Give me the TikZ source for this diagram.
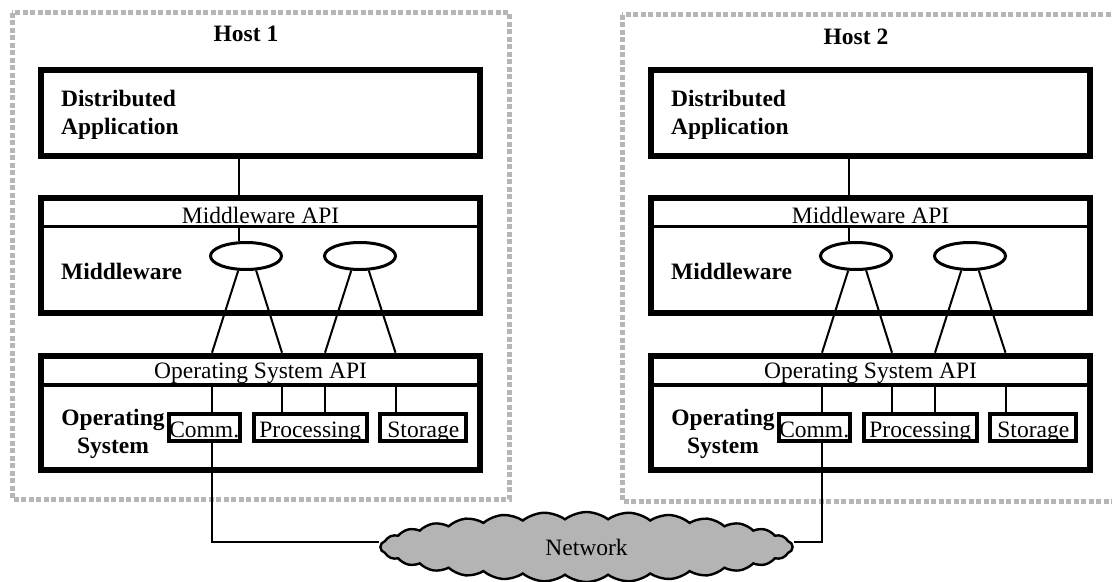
\documentclass[tikz,border=0pt]{standalone}
\usepackage{fontspec}
\setmainfont{Liberation Serif}
\usetikzlibrary{shapes.geometric,shapes.symbols,calc}
\definecolor{hostgray}{RGB}{182,182,182}
\definecolor{cloudgray}{RGB}{180,180,180}
\begin{document}
\begin{tikzpicture}[x=0.5pt,y=-0.5pt,
  every node/.style={inner sep=0pt, font=\fontsize{11.75}{14}\selectfont},
  hostframe/.style={draw=hostgray, line width=2.5pt, dash pattern=on 2.5pt off 1.25pt},
  layerbox/.style={draw, line width=3.3pt, minimum width=219.5pt},
  sepline/.style={line width=1.7pt},
  compbox/.style={draw, line width=2pt, minimum height=13.8pt, text height=9.6pt, text depth=0pt},
  svc/.style={draw, ellipse, line width=1.5pt, minimum width=35.5pt, minimum height=13.5pt},
  link/.style={line width=1pt},
  boldlabel/.style={font=\fontsize{11.75}{14}\selectfont\bfseries},
  netcloud/.style={cloud, cloud puffs=30, cloud puff arc=75, cloud ignores aspect,
    draw, line width=1.2pt, fill=cloudgray, minimum width=206pt, minimum height=35pt}
]
\useasboundingbox (0,0) rectangle (1112,582);

\node[netcloud] (net) at (586.5,547) {Network};

\foreach \h/\dx/\dy/\ty in {1/0/0/26,2/610/2/28.7}{
  \draw[hostframe] (12+\dx,13+\dy) rectangle (509+\dx,499+\dy);
  \node[boldlabel, anchor=north] (title\h) at (246+\dx,\ty) {Host \h};

  \node[layerbox, minimum height=43pt] (da\h) at (260.5+\dx,113) {};
  \node[boldlabel, anchor=north west, align=left] (dat\h) at (60.7+\dx,90) {Distributed\\Application};

  \node[layerbox, minimum height=57.5pt] (mw\h) at (260.5+\dx,255.5) {};
  \coordinate (mwsep\h) at (\dx,226.7);
  \draw[sepline] (mw\h.west |- mwsep\h) -- (mw\h.east |- mwsep\h);
  \node[anchor=north] (mwapi\h) at (260.5+\dx,206.7) {Middleware API};
  \node[boldlabel, anchor=north west] (mwt\h) at (60.7+\dx,263) {Middleware};
  \node[svc] (sa\h) at (246+\dx,256) {};
  \node[svc] (sb\h) at (360+\dx,256) {};

  \node[layerbox, minimum height=57pt] (os\h) at (260.5+\dx,413) {};
  \coordinate (ossep\h) at (\dx,385);
  \draw[sepline] (os\h.west |- ossep\h) -- (os\h.east |- ossep\h);
  \node[anchor=north] (osapi\h) at (260.5+\dx,363) {Operating System API};
  \node[boldlabel, align=center, anchor=north] (ost\h) at (113+\dx,409) {Operating\\System};
  \node[compbox, minimum width=35.5pt] (comm\h) at (204.2+\dx,427.5) {Comm.};
  \node[compbox, minimum width=56.7pt] (proc\h) at (310.3+\dx,427.5) {Processing};
  \node[compbox, minimum width=43pt] (stor\h) at (423.3+\dx,427.5) {Storage};

  \coordinate (xa\h) at (239+\dx,0);
  \coordinate (pa\h) at (212+\dx,0);
  \coordinate (pb\h) at (282+\dx,0);
  \coordinate (pc\h) at (325+\dx,0);
  \coordinate (pd\h) at (395.5+\dx,0);

  \draw[link] (da\h.south -| xa\h) -- (mw\h.north -| xa\h);
  \draw[link] (mwsep\h -| xa\h) -- (sa\h.north -| xa\h);
  \draw[link] (sa\h.-118) -- (os\h.north -| pa\h);
  \draw[link] (sa\h.-55) -- (os\h.north -| pb\h);
  \draw[link] (sb\h.-121) -- (os\h.north -| pc\h);
  \draw[link] (sb\h.-59) -- (os\h.north -| pd\h);
  \draw[link] (ossep\h -| pa\h) -- (comm\h.north -| pa\h);
  \draw[link] (ossep\h -| pb\h) -- (proc\h.north -| pb\h);
  \draw[link] (ossep\h -| pc\h) -- (proc\h.north -| pc\h);
  \draw[link] (ossep\h -| pd\h) -- (stor\h.north -| pd\h);
}

\draw[link] (comm1.south -| pa1) |- ([yshift=2.7pt]net.west);
\draw[link] (comm2.south -| pa2) |- ([yshift=2.7pt]net.east);
\end{tikzpicture}
\end{document}
